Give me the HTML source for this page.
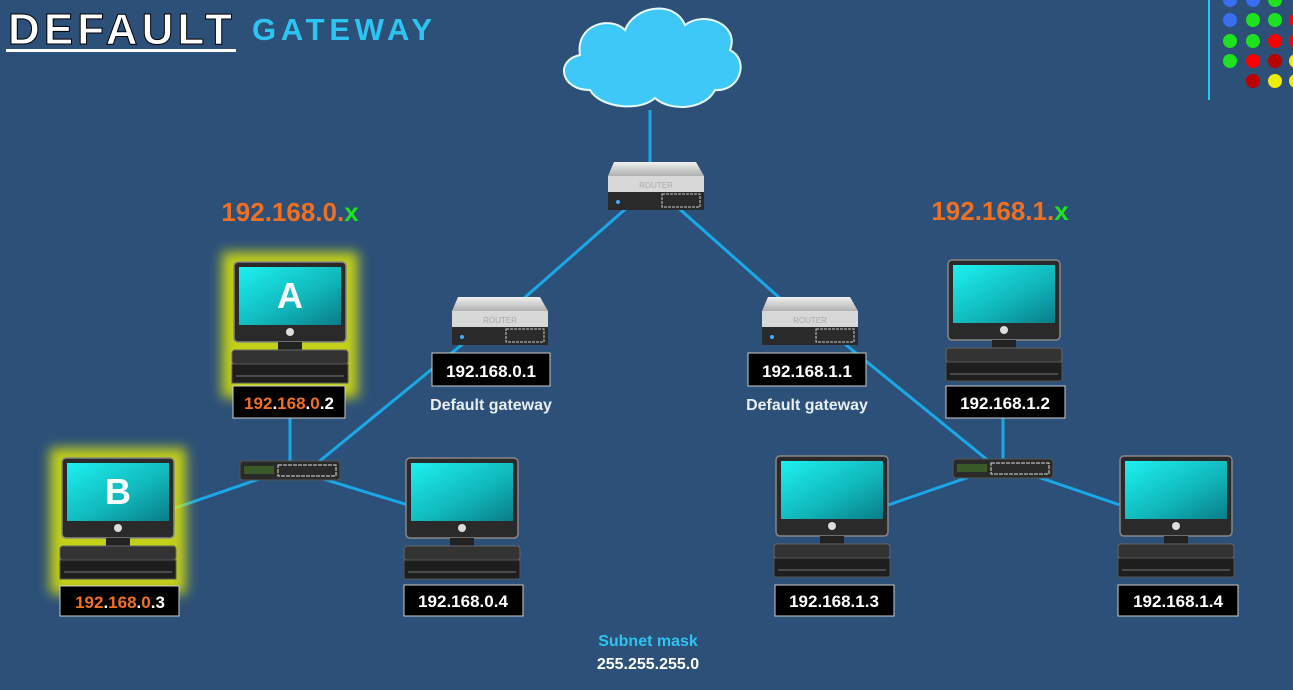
<!DOCTYPE html>
<html><head><meta charset="utf-8"><style>
body{margin:0;width:1293px;height:685px;overflow:hidden;background:#2c5078;font-family:"Liberation Sans",sans-serif}
</style></head><body>
<svg width="1293" height="685" xmlns="http://www.w3.org/2000/svg" font-family="Liberation Sans, sans-serif">
<defs>
<linearGradient id="scr" x1="0" y1="0" x2="1" y2="1"><stop offset="0" stop-color="#1ef0f0"/><stop offset="0.6" stop-color="#10b4b8"/><stop offset="1" stop-color="#0a7c88"/></linearGradient>
<linearGradient id="rt" x1="0" y1="0" x2="0" y2="1"><stop offset="0" stop-color="#f0f0f0"/><stop offset="1" stop-color="#b0b0b0"/></linearGradient>
<filter id="glow" x="-30%" y="-30%" width="160%" height="160%"><feGaussianBlur stdDeviation="6"/></filter>
<g id="pc">
<rect x="0" y="0" width="112" height="80" rx="4" fill="#2a2a2a" stroke="#888" stroke-width="1.5"/>
<rect x="5" y="5" width="102" height="58" fill="url(#scr)"/>
<circle cx="56" cy="70" r="4" fill="#ddd"/>
<rect x="44" y="80" width="24" height="8" fill="#222"/>
<rect x="-2" y="88" width="116" height="14" rx="3" fill="#333" stroke="#666"/>
<rect x="-2" y="102" width="116" height="19" fill="#1e1e1e" stroke="#555"/>
<line x1="2" y1="114" x2="110" y2="114" stroke="#777"/>
</g>
<g id="router">
<polygon points="6,0 88,0 96,14 0,14" fill="url(#rt)"/>
<rect x="0" y="14" width="96" height="34" fill="#d8d8d8"/>
<rect x="0" y="30" width="96" height="18" fill="#2a2a2a"/>
<text x="48" y="26" font-size="8" fill="#aaa" text-anchor="middle">ROUTER</text>
<rect x="54" y="32" width="38" height="13" fill="none" stroke="#ccc" stroke-dasharray="3 1"/>
<circle cx="10" cy="40" r="2" fill="#4af"/>
</g>
<g id="sw">
<rect x="0" y="0" width="100" height="19" rx="3" fill="#2a2a2a" stroke="#555"/>
<rect x="4" y="5" width="30" height="8" fill="#3a5a2a"/>
<rect x="38" y="4" width="58" height="11" fill="none" stroke="#ddd" stroke-dasharray="4 1"/>
</g>
</defs>
<text x="8" y="44" font-size="44" font-weight="bold" fill="#fff" stroke="#000" stroke-width="1" textLength="224">DEFAULT</text>
<rect x="6" y="49" width="230" height="3" fill="#fff"/>
<text x="252" y="40" font-size="31" font-weight="bold" fill="#2ec4f2" textLength="180">GATEWAY</text>
<line x1="1209" y1="0" x2="1209" y2="100" stroke="#2ec4f2" stroke-width="2"/>
<g>
<circle cx="1230" cy="0" r="7" fill="#3a6ef0"/><circle cx="1253" cy="0" r="7" fill="#3a6ef0"/><circle cx="1275" cy="0" r="7" fill="#1de21d"/>
<circle cx="1230" cy="20" r="7" fill="#3a6ef0"/><circle cx="1253" cy="20" r="7" fill="#1de21d"/><circle cx="1275" cy="20" r="7" fill="#1de21d"/><circle cx="1296" cy="20" r="7" fill="#f00"/>
<circle cx="1230" cy="41" r="7" fill="#1de21d"/><circle cx="1253" cy="41" r="7" fill="#1de21d"/><circle cx="1275" cy="41" r="7" fill="#f00"/><circle cx="1296" cy="41" r="7" fill="#f00"/>
<circle cx="1230" cy="61" r="7" fill="#1de21d"/><circle cx="1253" cy="61" r="7" fill="#f00"/><circle cx="1275" cy="61" r="7" fill="#b00"/><circle cx="1296" cy="61" r="7" fill="#ee0"/>
<circle cx="1253" cy="81" r="7" fill="#b00"/><circle cx="1275" cy="81" r="7" fill="#ee0"/><circle cx="1296" cy="81" r="7" fill="#ee0"/>
</g>
<g fill="#3ec8f8" stroke="#e8f8ff" stroke-width="2">
<path d="M590,90 C560,90 555,60 580,55 C575,25 610,15 625,30 C635,5 675,0 685,25 C705,10 740,25 730,50 C750,60 740,92 715,90 C705,110 670,112 655,98 C640,112 600,108 590,90 Z"/>
</g>
<g stroke="#1aa9e8" stroke-width="3" fill="none">
<line x1="650" y1="110" x2="650" y2="168"/>
<line x1="630" y1="205" x2="522" y2="300"/>
<line x1="675" y1="205" x2="782" y2="300"/>
<line x1="470" y1="338" x2="316" y2="464"/>
<line x1="840" y1="340" x2="990" y2="462"/>
<line x1="290" y1="418" x2="290" y2="462"/>
<line x1="175" y1="508" x2="262" y2="478"/>
<line x1="320" y1="478" x2="408" y2="505"/>
<line x1="1003" y1="418" x2="1003" y2="462"/>
<line x1="888" y1="505" x2="972" y2="476"/>
<line x1="1035" y1="476" x2="1120" y2="505"/>
</g>
<rect x="222" y="252" width="136" height="146" fill="#e8f000" opacity="0.8" filter="url(#glow)"/>
<rect x="50" y="448" width="136" height="146" fill="#e8f000" opacity="0.8" filter="url(#glow)"/>
<use href="#pc" x="234" y="262"/>
<use href="#pc" x="62" y="458"/>
<use href="#pc" x="406" y="458"/>
<use href="#pc" x="948" y="260"/>
<use href="#pc" x="776" y="456"/>
<use href="#pc" x="1120" y="456"/>
<text x="290" y="308" font-size="36" font-weight="bold" fill="#fff" text-anchor="middle">A</text>
<text x="118" y="504" font-size="36" font-weight="bold" fill="#fff" text-anchor="middle">B</text>
<use href="#router" x="608" y="162"/>
<use href="#router" x="452" y="297"/>
<use href="#router" x="762" y="297"/>
<use href="#sw" x="240" y="461"/>
<use href="#sw" x="953" y="459"/>
<g stroke="#ccc" stroke-width="1" fill="#000">
<rect x="233" y="386" width="112" height="32"/>
<rect x="60" y="586" width="119" height="30"/>
<rect x="404" y="585" width="119" height="31"/>
<rect x="946" y="386" width="119" height="32"/>
<rect x="775" y="585" width="119" height="31"/>
<rect x="1118" y="585" width="120" height="31"/>
<rect x="432" y="353" width="118" height="33"/>
<rect x="748" y="353" width="118" height="33"/>
</g>
<g font-size="17" font-weight="bold" fill="#fff" text-anchor="middle">
<text x="289" y="409"><tspan fill="#f07020">192</tspan>.<tspan fill="#f07020">168</tspan>.<tspan fill="#f07020">0</tspan>.2</text>
<text x="120" y="608"><tspan fill="#f07020">192</tspan>.<tspan fill="#f07020">168</tspan>.<tspan fill="#f07020">0</tspan>.3</text>
<text x="463" y="607">192.168.0.4</text>
<text x="1005" y="409">192.168.1.2</text>
<text x="834" y="607">192.168.1.3</text>
<text x="1178" y="607">192.168.1.4</text>
<text x="491" y="377">192.168.0.1</text>
<text x="807" y="377">192.168.1.1</text>
</g>
<g font-size="16" font-weight="bold" fill="#e8eef5" text-anchor="middle">
<text x="491" y="410">Default gateway</text>
<text x="807" y="410">Default gateway</text>
</g>
<g font-size="26" font-weight="bold" fill="#f07020" text-anchor="middle">
<text x="290" y="221">192.168.0.<tspan fill="#1de21d">x</tspan></text>
<text x="1000" y="220">192.168.1.<tspan fill="#1de21d">x</tspan></text>
</g>
<text x="648" y="646" font-size="16" font-weight="bold" fill="#2ec4f2" text-anchor="middle">Subnet mask</text>
<text x="648" y="669" font-size="16" font-weight="bold" fill="#fff" text-anchor="middle">255.255.255.0</text>
</svg>
</body></html>
